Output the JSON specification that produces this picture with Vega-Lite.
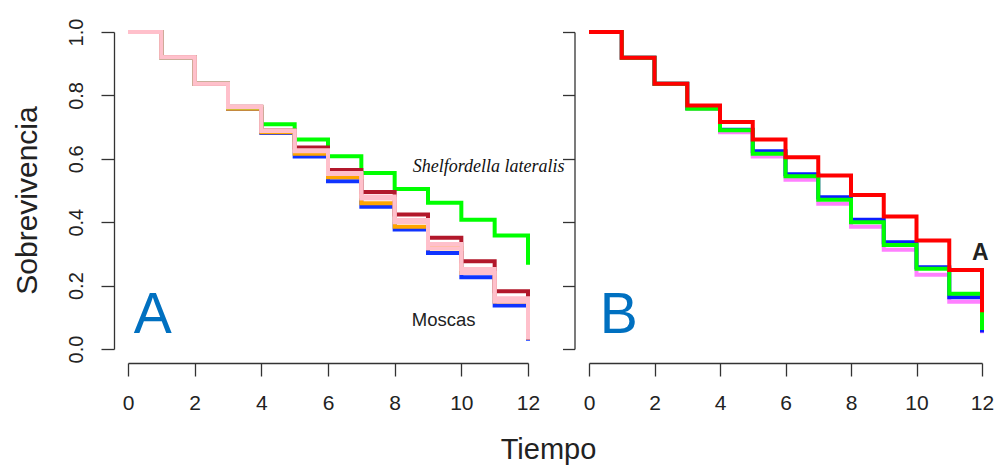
{
  "$schema": "https://vega.github.io/schema/vega-lite/v6.json",
  "padding": {"left": 12, "top": 18, "right": 3, "bottom": 3},
  "background": "white",
  "config": {
    "view": {"stroke": null},
    "font": "Liberation Sans",
    "axis": {
      "domainColor": "#333", "tickColor": "#333", "labelColor": "#222", "titleColor": "#222",
      "labelFont": "Liberation Sans", "titleFont": "Liberation Sans", "grid": false,
      "domainWidth": 1.3, "tickWidth": 1.3, "titleFontWeight": "normal",
      "labelFlush": false, "labelOverlap": false
    }
  },
  "datasets": {
    "surv": [
      {"panel":"A","grp":"a1blue","t":0,"s":1},{"panel":"A","grp":"a1blue","t":1,"s":0.92},{"panel":"A","grp":"a1blue","t":2,"s":0.837},{"panel":"A","grp":"a1blue","t":3,"s":0.757},{"panel":"A","grp":"a1blue","t":4,"s":0.681},{"panel":"A","grp":"a1blue","t":5,"s":0.607},{"panel":"A","grp":"a1blue","t":6,"s":0.529},{"panel":"A","grp":"a1blue","t":7,"s":0.449},{"panel":"A","grp":"a1blue","t":8,"s":0.377},{"panel":"A","grp":"a1blue","t":9,"s":0.303},{"panel":"A","grp":"a1blue","t":10,"s":0.226},{"panel":"A","grp":"a1blue","t":11,"s":0.137},{"panel":"A","grp":"a1blue","t":12,"s":0.026},
      {"panel":"A","grp":"a2orange","t":0,"s":1},{"panel":"A","grp":"a2orange","t":1,"s":0.92},{"panel":"A","grp":"a2orange","t":2,"s":0.837},{"panel":"A","grp":"a2orange","t":3,"s":0.758},{"panel":"A","grp":"a2orange","t":4,"s":0.684},{"panel":"A","grp":"a2orange","t":5,"s":0.616},{"panel":"A","grp":"a2orange","t":6,"s":0.542},{"panel":"A","grp":"a2orange","t":7,"s":0.46},{"panel":"A","grp":"a2orange","t":8,"s":0.386},{"panel":"A","grp":"a2orange","t":9,"s":0.318},{"panel":"A","grp":"a2orange","t":10,"s":0.24},{"panel":"A","grp":"a2orange","t":11,"s":0.15},{"panel":"A","grp":"a2orange","t":12,"s":0.03},
      {"panel":"A","grp":"a3green","t":0,"s":1},{"panel":"A","grp":"a3green","t":1,"s":0.92},{"panel":"A","grp":"a3green","t":2,"s":0.837},{"panel":"A","grp":"a3green","t":3,"s":0.763},{"panel":"A","grp":"a3green","t":4,"s":0.709},{"panel":"A","grp":"a3green","t":5,"s":0.661},{"panel":"A","grp":"a3green","t":6,"s":0.608},{"panel":"A","grp":"a3green","t":7,"s":0.555},{"panel":"A","grp":"a3green","t":8,"s":0.505},{"panel":"A","grp":"a3green","t":9,"s":0.461},{"panel":"A","grp":"a3green","t":10,"s":0.408},{"panel":"A","grp":"a3green","t":11,"s":0.358},{"panel":"A","grp":"a3green","t":12,"s":0.266},
      {"panel":"A","grp":"a4darkred","t":0,"s":1},{"panel":"A","grp":"a4darkred","t":1,"s":0.92},{"panel":"A","grp":"a4darkred","t":2,"s":0.837},{"panel":"A","grp":"a4darkred","t":3,"s":0.764},{"panel":"A","grp":"a4darkred","t":4,"s":0.689},{"panel":"A","grp":"a4darkred","t":5,"s":0.636},{"panel":"A","grp":"a4darkred","t":6,"s":0.565},{"panel":"A","grp":"a4darkred","t":7,"s":0.495},{"panel":"A","grp":"a4darkred","t":8,"s":0.424},{"panel":"A","grp":"a4darkred","t":9,"s":0.351},{"panel":"A","grp":"a4darkred","t":10,"s":0.277},{"panel":"A","grp":"a4darkred","t":11,"s":0.182},{"panel":"A","grp":"a4darkred","t":12,"s":0.03},
      {"panel":"A","grp":"a5pink2","t":0,"s":1},{"panel":"A","grp":"a5pink2","t":1,"s":0.92},{"panel":"A","grp":"a5pink2","t":2,"s":0.837},{"panel":"A","grp":"a5pink2","t":3,"s":0.763},{"panel":"A","grp":"a5pink2","t":4,"s":0.688},{"panel":"A","grp":"a5pink2","t":5,"s":0.624},{"panel":"A","grp":"a5pink2","t":6,"s":0.552},{"panel":"A","grp":"a5pink2","t":7,"s":0.475},{"panel":"A","grp":"a5pink2","t":8,"s":0.4},{"panel":"A","grp":"a5pink2","t":9,"s":0.318},{"panel":"A","grp":"a5pink2","t":10,"s":0.24},{"panel":"A","grp":"a5pink2","t":11,"s":0.15},{"panel":"A","grp":"a5pink2","t":12,"s":0.03},
      {"panel":"A","grp":"a6pink","t":0,"s":1},{"panel":"A","grp":"a6pink","t":1,"s":0.92},{"panel":"A","grp":"a6pink","t":2,"s":0.837},{"panel":"A","grp":"a6pink","t":3,"s":0.764},{"panel":"A","grp":"a6pink","t":4,"s":0.689},{"panel":"A","grp":"a6pink","t":5,"s":0.627},{"panel":"A","grp":"a6pink","t":6,"s":0.555},{"panel":"A","grp":"a6pink","t":7,"s":0.481},{"panel":"A","grp":"a6pink","t":8,"s":0.407},{"panel":"A","grp":"a6pink","t":9,"s":0.331},{"panel":"A","grp":"a6pink","t":10,"s":0.252},{"panel":"A","grp":"a6pink","t":11,"s":0.16},{"panel":"A","grp":"a6pink","t":12,"s":0.032},
      {"panel":"B","grp":"b1violet","t":0,"s":1},{"panel":"B","grp":"b1violet","t":1,"s":0.919},{"panel":"B","grp":"b1violet","t":2,"s":0.837},{"panel":"B","grp":"b1violet","t":3,"s":0.758},{"panel":"B","grp":"b1violet","t":4,"s":0.684},{"panel":"B","grp":"b1violet","t":5,"s":0.607},{"panel":"B","grp":"b1violet","t":6,"s":0.534},{"panel":"B","grp":"b1violet","t":7,"s":0.458},{"panel":"B","grp":"b1violet","t":8,"s":0.386},{"panel":"B","grp":"b1violet","t":9,"s":0.313},{"panel":"B","grp":"b1violet","t":10,"s":0.234},{"panel":"B","grp":"b1violet","t":11,"s":0.149},{"panel":"B","grp":"b1violet","t":12,"s":0.05},
      {"panel":"B","grp":"b2blue","t":0,"s":1},{"panel":"B","grp":"b2blue","t":1,"s":0.919},{"panel":"B","grp":"b2blue","t":2,"s":0.837},{"panel":"B","grp":"b2blue","t":3,"s":0.76},{"panel":"B","grp":"b2blue","t":4,"s":0.692},{"panel":"B","grp":"b2blue","t":5,"s":0.624},{"panel":"B","grp":"b2blue","t":6,"s":0.551},{"panel":"B","grp":"b2blue","t":7,"s":0.479},{"panel":"B","grp":"b2blue","t":8,"s":0.408},{"panel":"B","grp":"b2blue","t":9,"s":0.337},{"panel":"B","grp":"b2blue","t":10,"s":0.258},{"panel":"B","grp":"b2blue","t":11,"s":0.163},{"panel":"B","grp":"b2blue","t":12,"s":0.052},
      {"panel":"B","grp":"b3green","t":0,"s":1},{"panel":"B","grp":"b3green","t":1,"s":0.919},{"panel":"B","grp":"b3green","t":2,"s":0.837},{"panel":"B","grp":"b3green","t":3,"s":0.758},{"panel":"B","grp":"b3green","t":4,"s":0.69},{"panel":"B","grp":"b3green","t":5,"s":0.616},{"panel":"B","grp":"b3green","t":6,"s":0.545},{"panel":"B","grp":"b3green","t":7,"s":0.471},{"panel":"B","grp":"b3green","t":8,"s":0.4},{"panel":"B","grp":"b3green","t":9,"s":0.328},{"panel":"B","grp":"b3green","t":10,"s":0.253},{"panel":"B","grp":"b3green","t":11,"s":0.174},{"panel":"B","grp":"b3green","t":12,"s":0.06},
      {"panel":"B","grp":"b4red","t":0,"s":1},{"panel":"B","grp":"b4red","t":1,"s":0.919},{"panel":"B","grp":"b4red","t":2,"s":0.837},{"panel":"B","grp":"b4red","t":3,"s":0.768},{"panel":"B","grp":"b4red","t":4,"s":0.716},{"panel":"B","grp":"b4red","t":5,"s":0.661},{"panel":"B","grp":"b4red","t":6,"s":0.605},{"panel":"B","grp":"b4red","t":7,"s":0.547},{"panel":"B","grp":"b4red","t":8,"s":0.486},{"panel":"B","grp":"b4red","t":9,"s":0.418},{"panel":"B","grp":"b4red","t":10,"s":0.342},{"panel":"B","grp":"b4red","t":11,"s":0.249},{"panel":"B","grp":"b4red","t":12,"s":0.116}
    ]
  },
  "bounds": "flush",
  "spacing": 61,
  "resolve": {"scale": {"color": "independent", "x": "independent", "y": "independent"}},
  "hconcat": [
    {
      "width": 400,
      "height": 317,
      "layer": [
        {
          "data": {"name": "surv"},
          "transform": [{"filter": "datum.panel == 'A'"}],
          "mark": {"type": "line", "interpolate": "step-after", "strokeWidth": 4, "clip": false},
          "encoding": {
            "x": {"field": "t", "type": "quantitative",
              "scale": {"domain": [0, 12], "nice": false, "zero": false},
              "axis": {"values": [0, 2, 4, 6, 8, 10, 12], "offset": 14, "tickSize": 13, "labelFontSize": 21, "labelPadding": 16,
                "title": "Tiempo", "titleFontSize": 29, "titlePadding": 22, "titleX": 420}},
            "y": {"field": "s", "type": "quantitative",
              "scale": {"domain": [0, 1], "nice": false},
              "axis": {"values": [0, 0.2, 0.4, 0.6, 0.8, 1], "format": ".1f", "offset": 14, "tickSize": 13,
                "labelAngle": -90, "labelAlign": "center", "labelBaseline": "alphabetic", "labelFontSize": 20, "labelPadding": 19,
                "title": "Sobrevivencia", "titleFontSize": 30, "titlePadding": 24, "titleY": 168}},
            "color": {"field": "grp", "type": "nominal",
              "scale": {"domain": ["a1blue", "a2orange", "a3green", "a4darkred", "a5pink2", "a6pink"],
                "range": ["#1034ff", "#ffa500", "#00ff00", "#b2182b", "#ffc0cb", "#ffc0cb"]},
              "legend": null}
          }
        },
        {
          "data": {"values": [{"label": "A", "t": 0.17, "s": 0.05}]},
          "mark": {"type": "text", "align": "left", "baseline": "alphabetic", "fontSize": 57, "color": "#0070c0", "font": "Liberation Sans"},
          "encoding": {"x": {"field": "t", "type": "quantitative"}, "y": {"field": "s", "type": "quantitative"}, "text": {"field": "label"}}
        },
        {
          "data": {"values": [{"label": "Moscas", "t": 9.47, "s": 0.074}]},
          "mark": {"type": "text", "align": "center", "baseline": "alphabetic", "fontSize": 18.5, "color": "#222", "font": "Liberation Sans"},
          "encoding": {"x": {"field": "t", "type": "quantitative"}, "y": {"field": "s", "type": "quantitative"}, "text": {"field": "label"}}
        },
        {
          "data": {"values": [{"label": "Shelfordella lateralis", "t": 10.82, "s": 0.557}]},
          "mark": {"type": "text", "align": "center", "baseline": "alphabetic", "fontSize": 18, "fontStyle": "italic", "color": "#111", "font": "Liberation Serif"},
          "encoding": {"x": {"field": "t", "type": "quantitative"}, "y": {"field": "s", "type": "quantitative"}, "text": {"field": "label"}}
        }
      ]
    },
    {
      "width": 393,
      "height": 317,
      "layer": [
        {
          "data": {"name": "surv"},
          "transform": [{"filter": "datum.panel == 'B'"}],
          "mark": {"type": "line", "interpolate": "step-after", "strokeWidth": 4, "clip": false},
          "encoding": {
            "x": {"field": "t", "type": "quantitative",
              "scale": {"domain": [0, 12], "nice": false, "zero": false},
              "axis": {"values": [0, 2, 4, 6, 8, 10, 12], "offset": 14, "tickSize": 13, "labelFontSize": 21, "labelPadding": 16, "title": null}},
            "y": {"field": "s", "type": "quantitative",
              "scale": {"domain": [0, 1], "nice": false},
              "axis": {"values": [0, 0.2, 0.4, 0.6, 0.8, 1], "offset": 14.5, "tickSize": 12, "labels": false, "title": null}},
            "color": {"field": "grp", "type": "nominal",
              "scale": {"domain": ["b1violet", "b2blue", "b3green", "b4red"],
                "range": ["#ff80ff", "#0a1eff", "#00ff00", "#ff0000"]},
              "legend": null}
          }
        },
        {
          "data": {"values": [{"label": "B", "t": 0.33, "s": 0.049}]},
          "mark": {"type": "text", "align": "left", "baseline": "alphabetic", "fontSize": 57, "color": "#0070c0", "font": "Liberation Sans"},
          "encoding": {"x": {"field": "t", "type": "quantitative"}, "y": {"field": "s", "type": "quantitative"}, "text": {"field": "label"}}
        },
        {
          "data": {"values": [{"label": "A", "t": 11.95, "s": 0.281}]},
          "mark": {"type": "text", "align": "center", "baseline": "alphabetic", "fontSize": 23, "fontWeight": "bold", "color": "#222", "font": "Liberation Sans"},
          "encoding": {"x": {"field": "t", "type": "quantitative"}, "y": {"field": "s", "type": "quantitative"}, "text": {"field": "label"}}
        }
      ]
    }
  ]
}
